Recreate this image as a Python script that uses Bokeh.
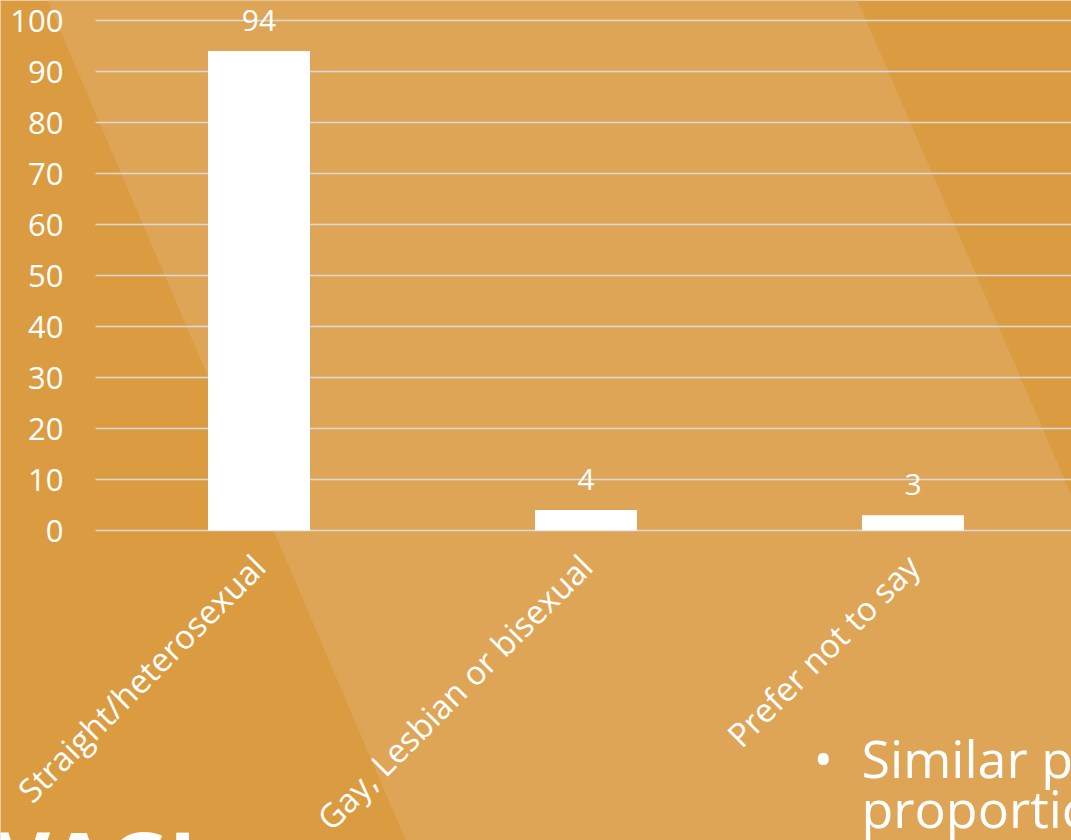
import math
from bokeh.plotting import figure
from bokeh.models import Range1d, FixedTicker, PolyAnnotation, Label
from bokeh.core.properties import value
from bokeh.embed import file_html
from bokeh.resources import INLINE

# ---- data ----
categories = ["Straight/heterosexual", "Gay, Lesbian or bisexual", "Prefer not to say"]
percentages = [94, 4, 3]
y_ticks = [0, 10, 20, 30, 40, 50, 60, 70, 80, 90, 100]

# ---- style ----
BG = "#DB9C41"
BAND = "#DFA557"
GRID = "#D9D9D9"
FONT = "Open Sans"

W, H = 1071, 840
# page-pixel layout of the slide: category pitch 327px, first centre at 258.5px,
# value 0 at 530px, 5.1px per percentage point
PITCH, C0, ZERO, UNIT = 327.0, 258.5, 530.0, 5.1
X0 = -C0 / PITCH
X1 = X0 + W / PITCH
Y1 = ZERO / UNIT
Y0 = Y1 - H / UNIT

def px(sx):
    return X0 + sx / PITCH
def py(sy):
    return Y1 - sy / UNIT

p = figure(width=W, height=H, output_backend="svg", toolbar_location=None,
           x_range=Range1d(X0, X1), y_range=Range1d(Y0, Y1), min_border=0)
p.background_fill_color = BG
p.border_fill_color = BG
p.outline_line_color = None

# lighter diagonal band of the slide background
band = PolyAnnotation(xs=[px(47), px(857), px(1246), px(431)],
                      ys=[py(0), py(0), py(900), py(900)],
                      fill_color=BAND, fill_alpha=1.0, line_color=None,
                      level="image")
p.add_layout(band)

# grid (horizontal lines start at the left edge of the plot area)
p.xgrid.grid_line_color = None
grid_ok = True
try:
    p.ygrid.cross_bounds = (px(95), X1)
except Exception:
    grid_ok = False
if grid_ok:
    p.ygrid.ticker = FixedTicker(ticks=y_ticks)
    p.ygrid.grid_line_color = GRID
    p.ygrid.grid_line_width = 1.5
else:
    p.ygrid.grid_line_color = None
    p.segment(x0=[px(95)] * len(y_ticks), x1=[X1] * len(y_ticks),
              y0=y_ticks, y1=y_ticks, line_color=GRID, line_width=1.5,
              level="underlay")

# bars
xs = list(range(len(categories)))
p.vbar(x=xs, top=percentages, width=0.312, fill_color="white", line_color=None)

# value labels
p.text(x=xs, y=percentages, text=[str(v) for v in percentages],
       text_align="center", text_baseline="bottom", y_offset=-20,
       text_color="white", text_font=value(FONT), text_font_size="30px")

# axes drawn at fixed positions inside the frame
p.yaxis.fixed_location = px(95)
p.yaxis.ticker = FixedTicker(ticks=y_ticks)
p.yaxis.axis_line_color = None
p.yaxis.major_tick_line_color = None
p.yaxis.minor_tick_line_color = None
p.yaxis.major_tick_out = 0
p.yaxis.major_tick_in = 0
p.yaxis.major_label_standoff = 32
p.yaxis.major_label_text_color = "white"
p.yaxis.major_label_text_font = FONT
p.yaxis.major_label_text_font_size = "31px"

p.xaxis.fixed_location = 0
p.xaxis.ticker = FixedTicker(ticks=xs)
p.xaxis.major_label_overrides = {i: c for i, c in zip(xs, categories)}
p.xaxis.major_label_orientation = math.pi / 4
p.xaxis.axis_line_color = None
p.xaxis.major_tick_line_color = None
p.xaxis.minor_tick_line_color = None
p.xaxis.major_tick_out = 0
p.xaxis.major_tick_in = 0
p.xaxis.major_label_standoff = 30
p.xaxis.major_label_text_color = "white"
p.xaxis.major_label_text_font = FONT
p.xaxis.major_label_text_font_size = "33px"

# slide overlay texts (partially visible)
p.add_layout(Label(x=px(813), y=py(757), text="•", text_color="white",
                   text_font=FONT, text_font_size="52px", text_baseline="alphabetic"))
p.add_layout(Label(x=px(861), y=py(757), text="Similar p", text_color="white",
                   text_font=FONT, text_font_size="52px", text_baseline="alphabetic"))
p.add_layout(Label(x=px(861), y=py(807), text="proportio", text_color="white",
                   text_font=FONT, text_font_size="52px", text_baseline="alphabetic"))
p.add_layout(Label(x=px(-5), y=py(860), text="VAGI", text_color="white",
                   text_font=FONT, text_font_style="bold", text_font_size="84px",
                   text_baseline="alphabetic"))

open("out.html", "w").write(file_html(p, INLINE))
